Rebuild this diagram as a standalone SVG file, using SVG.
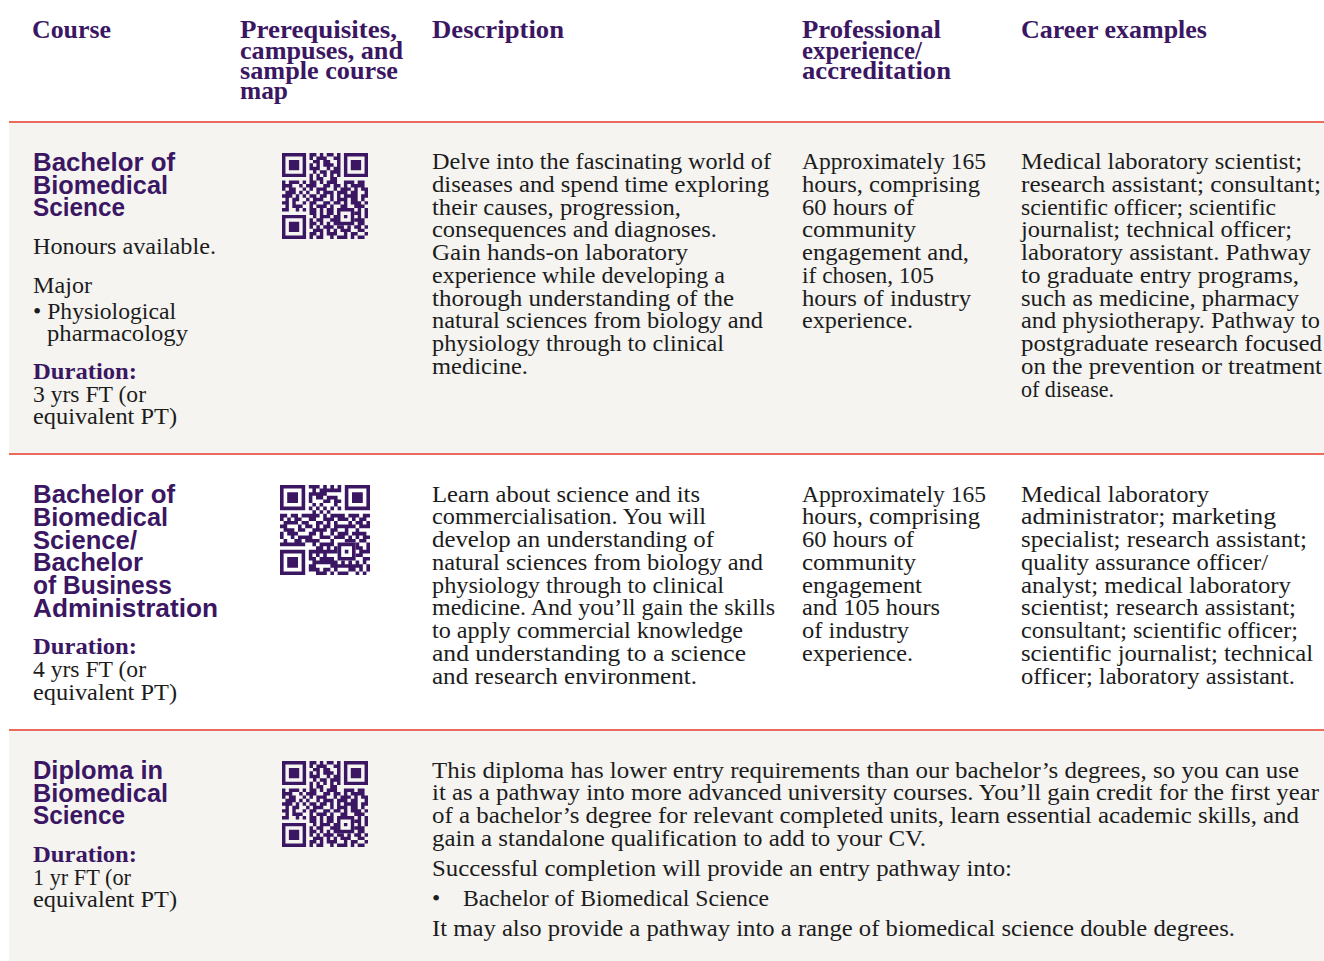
<svg xmlns="http://www.w3.org/2000/svg" width="1324" height="961" viewBox="0 0 1324 961">
<style>
.hd{font-family:"Liberation Serif","Times New Roman",serif;font-weight:bold;font-size:25.5px;fill:#3b1763}
.nm{font-family:"Liberation Sans",Arial,sans-serif;font-weight:bold;font-size:25.5px;fill:#3b1763}
.tx{font-family:"Liberation Serif","Times New Roman",serif;font-size:23.5px;fill:#1c1c1c}
.du{font-family:"Liberation Serif","Times New Roman",serif;font-weight:bold;font-size:23.5px;fill:#3b1763}
.rule{stroke:#ea6a5e;stroke-width:2}
.qr{fill:#3b1763}
</style>
<defs>
<g id="qr">
<path class="qr" fill-rule="evenodd" d="M0 0h7v7h-7z M1 1v5h5v-5z M2 2h3v3h-3z M18 0h7v7h-7z M19 1v5h5v-5z M20 2h3v3h-3z M0 18h7v7h-7z M1 19v5h5v-5z M2 20h3v3h-3z M16 16h5v5h-5z M17 17v3h3v-3z M18 18h1v1h-1z"/>
<path class="qr" d="M8 0h2v1h-2z M11 0h1v1h-1z M13 0h2v1h-2z M16 0h1v1h-1z
M8 1h1v1h-1z M10 1h3v1h-3z M15 1h2v1h-2z
M9 2h2v1h-2z M12 2h2v1h-2z M16 2h1v1h-1z
M8 3h1v1h-1z M10 3h1v1h-1z M12 3h3v1h-3z M16 3h1v1h-1z
M8 4h3v1h-3z M13 4h1v1h-1z M15 4h2v1h-2z
M9 5h1v1h-1z M11 5h2v1h-2z M14 5h3v1h-3z
M8 6h1v1h-1z M10 6h1v1h-1z M12 6h1v1h-1z M14 6h1v1h-1z M16 6h1v1h-1z
M8 7h1v1h-1z M10 7h2v1h-2z M14 7h2v1h-2z
M0 8h1v1h-1z M2 8h3v1h-3z M6 8h1v1h-1z M8 8h2v1h-2z M11 8h1v1h-1z M13 8h3v1h-3z M18 8h3v1h-3z M22 8h2v1h-2z
M0 9h3v1h-3z M5 9h1v1h-1z M7 9h3v1h-3z M12 9h2v1h-2z M15 9h2v1h-2z M18 9h1v1h-1z M20 9h4v1h-4z
M0 10h1v1h-1z M2 10h2v1h-2z M6 10h1v1h-1z M8 10h1v1h-1z M10 10h3v1h-3z M15 10h1v1h-1z M17 10h3v1h-3z M21 10h1v1h-1z M23 10h2v1h-2z
M1 11h3v1h-3z M5 11h1v1h-1z M7 11h1v1h-1z M10 11h1v1h-1z M12 11h3v1h-3z M16 11h3v1h-3z M20 11h2v1h-2z M24 11h1v1h-1z
M0 12h3v1h-3z M4 12h1v1h-1z M6 12h1v1h-1z M8 12h2v1h-2z M11 12h2v1h-2z M14 12h1v1h-1z M16 12h1v1h-1z M18 12h4v1h-4z M23 12h2v1h-2z
M1 13h1v1h-1z M3 13h2v1h-2z M7 13h1v1h-1z M9 13h3v1h-3z M14 13h1v1h-1z M16 13h3v1h-3z M20 13h2v1h-2z M23 13h1v1h-1z
M0 14h2v1h-2z M3 14h1v1h-1z M6 14h1v1h-1z M8 14h2v1h-2z M12 14h2v1h-2z M15 14h2v1h-2z M18 14h1v1h-1z M20 14h3v1h-3z M24 14h1v1h-1z
M1 15h1v1h-1z M3 15h3v1h-3z M8 15h1v1h-1z M10 15h3v1h-3z M14 15h1v1h-1z M17 15h2v1h-2z M21 15h3v1h-3z
M0 16h2v1h-2z M4 16h1v1h-1z M6 16h1v1h-1z M8 16h2v1h-2z M11 16h1v1h-1z M13 16h2v1h-2z M22 16h1v1h-1z M24 16h1v1h-1z
M8 17h2v1h-2z M11 17h1v1h-1z M13 17h2v1h-2z M21 17h2v1h-2z M24 17h1v1h-1z
M9 18h1v1h-1z M11 18h3v1h-3z M15 18h1v1h-1z M22 18h1v1h-1z M24 18h1v1h-1z
M8 19h1v1h-1z M10 19h2v1h-2z M14 19h2v1h-2z M21 19h3v1h-3z
M8 20h2v1h-2z M11 20h1v1h-1z M13 20h1v1h-1z M15 20h1v1h-1z M22 20h2v1h-2z
M8 21h1v1h-1z M10 21h1v1h-1z M12 21h3v1h-3z M16 21h2v1h-2z M19 21h1v1h-1z M21 21h2v1h-2z M24 21h1v1h-1z
M9 22h3v1h-3z M13 22h1v1h-1z M15 22h1v1h-1z M17 22h3v1h-3z M22 22h2v1h-2z
M8 23h2v1h-2z M11 23h1v1h-1z M13 23h3v1h-3z M18 23h1v1h-1z M20 23h2v1h-2z M24 23h1v1h-1z
M8 24h1v1h-1z M10 24h2v1h-2z M14 24h1v1h-1z M16 24h3v1h-3z M20 24h1v1h-1z M22 24h2v1h-2z"/>
</g>
</defs>
<rect x="0" y="0" width="1324" height="961" fill="#ffffff"/>
<g id="backgrounds">
<rect x="9" y="123" width="1315" height="330" fill="#f5f4f1"/>
<rect x="9" y="731" width="1315" height="230" fill="#f5f4f1"/>
</g>
<g id="rules">
<line class="rule" x1="9" y1="122" x2="1324" y2="122"/>
<line class="rule" x1="9" y1="454" x2="1324" y2="454"/>
<line class="rule" x1="9" y1="730" x2="1324" y2="730"/>
</g>
<g id="header">
<text class="hd" x="32" y="38" textLength="79" lengthAdjust="spacingAndGlyphs">Course</text>
<text class="hd" x="240" y="38" textLength="157" lengthAdjust="spacingAndGlyphs">Prerequisites,</text>
<text class="hd" x="240" y="58.5" textLength="163" lengthAdjust="spacingAndGlyphs">campuses, and</text>
<text class="hd" x="240" y="79" textLength="158" lengthAdjust="spacingAndGlyphs">sample course</text>
<text class="hd" x="240" y="99" textLength="48" lengthAdjust="spacingAndGlyphs">map</text>
<text class="hd" x="432" y="38" textLength="132" lengthAdjust="spacingAndGlyphs">Description</text>
<text class="hd" x="802" y="38" textLength="139" lengthAdjust="spacingAndGlyphs">Professional</text>
<text class="hd" x="802" y="58.5" textLength="120" lengthAdjust="spacingAndGlyphs">experience/</text>
<text class="hd" x="802" y="79" textLength="149" lengthAdjust="spacingAndGlyphs">accreditation</text>
<text class="hd" x="1021" y="38" textLength="186" lengthAdjust="spacingAndGlyphs">Career examples</text>
</g>
<g id="row1">
<text class="nm" x="33" y="171" textLength="142" lengthAdjust="spacingAndGlyphs">Bachelor of</text>
<text class="nm" x="33" y="194" textLength="135" lengthAdjust="spacingAndGlyphs">Biomedical</text>
<text class="nm" x="33" y="216" textLength="92" lengthAdjust="spacingAndGlyphs">Science</text>
<text class="tx" x="33" y="253.5" textLength="183" lengthAdjust="spacingAndGlyphs">Honours available.</text>
<text class="tx" x="33" y="292.5" textLength="59" lengthAdjust="spacingAndGlyphs">Major</text>
<text class="tx" x="33" y="318.5" textLength="143" lengthAdjust="spacingAndGlyphs">• Physiological</text>
<text class="tx" x="47" y="341" textLength="141" lengthAdjust="spacingAndGlyphs">pharmacology</text>
<text class="du" x="33" y="378.5" textLength="104" lengthAdjust="spacingAndGlyphs">Duration:</text>
<text class="tx" x="33" y="401.5" textLength="113" lengthAdjust="spacingAndGlyphs">3 yrs FT (or</text>
<text class="tx" x="33" y="424" textLength="144" lengthAdjust="spacingAndGlyphs">equivalent PT)</text>
<use href="#qr" transform="translate(282,153) scale(3.44)"/>
<text class="tx" x="432" y="169" textLength="339" lengthAdjust="spacingAndGlyphs">Delve into the fascinating world of</text>
<text class="tx" x="432" y="191.75" textLength="337" lengthAdjust="spacingAndGlyphs">diseases and spend time exploring</text>
<text class="tx" x="432" y="214.5" textLength="249" lengthAdjust="spacingAndGlyphs">their causes, progression,</text>
<text class="tx" x="432" y="237.25" textLength="285" lengthAdjust="spacingAndGlyphs">consequences and diagnoses.</text>
<text class="tx" x="432" y="260" textLength="256" lengthAdjust="spacingAndGlyphs">Gain hands-on laboratory</text>
<text class="tx" x="432" y="282.75" textLength="293" lengthAdjust="spacingAndGlyphs">experience while developing a</text>
<text class="tx" x="432" y="305.5" textLength="302" lengthAdjust="spacingAndGlyphs">thorough understanding of the</text>
<text class="tx" x="432" y="328.25" textLength="331" lengthAdjust="spacingAndGlyphs">natural sciences from biology and</text>
<text class="tx" x="432" y="351" textLength="292" lengthAdjust="spacingAndGlyphs">physiology through to clinical</text>
<text class="tx" x="432" y="373.75" textLength="96" lengthAdjust="spacingAndGlyphs">medicine.</text>
<text class="tx" x="802" y="169" textLength="184" lengthAdjust="spacingAndGlyphs">Approximately 165</text>
<text class="tx" x="802" y="191.75" textLength="178" lengthAdjust="spacingAndGlyphs">hours, comprising</text>
<text class="tx" x="802" y="214.5" textLength="112" lengthAdjust="spacingAndGlyphs">60 hours of</text>
<text class="tx" x="802" y="237.25" textLength="114" lengthAdjust="spacingAndGlyphs">community</text>
<text class="tx" x="802" y="260" textLength="167" lengthAdjust="spacingAndGlyphs">engagement and,</text>
<text class="tx" x="802" y="282.75" textLength="132" lengthAdjust="spacingAndGlyphs">if chosen, 105</text>
<text class="tx" x="802" y="305.5" textLength="169" lengthAdjust="spacingAndGlyphs">hours of industry</text>
<text class="tx" x="802" y="328.25" textLength="111" lengthAdjust="spacingAndGlyphs">experience.</text>
<text class="tx" x="1021" y="169" textLength="281" lengthAdjust="spacingAndGlyphs">Medical laboratory scientist;</text>
<text class="tx" x="1021" y="191.75" textLength="300" lengthAdjust="spacingAndGlyphs">research assistant; consultant;</text>
<text class="tx" x="1021" y="214.5" textLength="255" lengthAdjust="spacingAndGlyphs">scientific officer; scientific</text>
<text class="tx" x="1021" y="237.25" textLength="271" lengthAdjust="spacingAndGlyphs">journalist; technical officer;</text>
<text class="tx" x="1021" y="260" textLength="290" lengthAdjust="spacingAndGlyphs">laboratory assistant. Pathway</text>
<text class="tx" x="1021" y="282.75" textLength="278" lengthAdjust="spacingAndGlyphs">to graduate entry programs,</text>
<text class="tx" x="1021" y="305.5" textLength="278" lengthAdjust="spacingAndGlyphs">such as medicine, pharmacy</text>
<text class="tx" x="1021" y="328.25" textLength="299" lengthAdjust="spacingAndGlyphs">and physiotherapy. Pathway to</text>
<text class="tx" x="1021" y="351" textLength="301" lengthAdjust="spacingAndGlyphs">postgraduate research focused</text>
<text class="tx" x="1021" y="373.75" textLength="301" lengthAdjust="spacingAndGlyphs">on the prevention or treatment</text>
<text class="tx" x="1021" y="396.5" textLength="93" lengthAdjust="spacingAndGlyphs">of disease.</text>
</g>
<g id="row2">
<text class="nm" x="33" y="503" textLength="142" lengthAdjust="spacingAndGlyphs">Bachelor of</text>
<text class="nm" x="33" y="526" textLength="135" lengthAdjust="spacingAndGlyphs">Biomedical</text>
<text class="nm" x="33" y="548.5" textLength="104" lengthAdjust="spacingAndGlyphs">Science/</text>
<text class="nm" x="33" y="571" textLength="110" lengthAdjust="spacingAndGlyphs">Bachelor</text>
<text class="nm" x="33" y="594" textLength="139" lengthAdjust="spacingAndGlyphs">of Business</text>
<text class="nm" x="33" y="617" textLength="185" lengthAdjust="spacingAndGlyphs">Administration</text>
<text class="du" x="33" y="653.5" textLength="104" lengthAdjust="spacingAndGlyphs">Duration:</text>
<text class="tx" x="33" y="677" textLength="113" lengthAdjust="spacingAndGlyphs">4 yrs FT (or</text>
<text class="tx" x="33" y="700" textLength="144" lengthAdjust="spacingAndGlyphs">equivalent PT)</text>
<use href="#qr" transform="matrix(0,3.6,3.6,0,280,485)"/>
<text class="tx" x="432" y="501.5" textLength="268" lengthAdjust="spacingAndGlyphs">Learn about science and its</text>
<text class="tx" x="432" y="524.25" textLength="274" lengthAdjust="spacingAndGlyphs">commercialisation. You will</text>
<text class="tx" x="432" y="547" textLength="282" lengthAdjust="spacingAndGlyphs">develop an understanding of</text>
<text class="tx" x="432" y="569.75" textLength="331" lengthAdjust="spacingAndGlyphs">natural sciences from biology and</text>
<text class="tx" x="432" y="592.5" textLength="292" lengthAdjust="spacingAndGlyphs">physiology through to clinical</text>
<text class="tx" x="432" y="615.25" textLength="343" lengthAdjust="spacingAndGlyphs">medicine. And you’ll gain the skills</text>
<text class="tx" x="432" y="638" textLength="311" lengthAdjust="spacingAndGlyphs">to apply commercial knowledge</text>
<text class="tx" x="432" y="660.75" textLength="314" lengthAdjust="spacingAndGlyphs">and understanding to a science</text>
<text class="tx" x="432" y="683.5" textLength="265" lengthAdjust="spacingAndGlyphs">and research environment.</text>
<text class="tx" x="802" y="501.5" textLength="184" lengthAdjust="spacingAndGlyphs">Approximately 165</text>
<text class="tx" x="802" y="524.25" textLength="178" lengthAdjust="spacingAndGlyphs">hours, comprising</text>
<text class="tx" x="802" y="547" textLength="112" lengthAdjust="spacingAndGlyphs">60 hours of</text>
<text class="tx" x="802" y="569.75" textLength="114" lengthAdjust="spacingAndGlyphs">community</text>
<text class="tx" x="802" y="592.5" textLength="120" lengthAdjust="spacingAndGlyphs">engagement</text>
<text class="tx" x="802" y="615.25" textLength="138" lengthAdjust="spacingAndGlyphs">and 105 hours</text>
<text class="tx" x="802" y="638" textLength="107" lengthAdjust="spacingAndGlyphs">of industry</text>
<text class="tx" x="802" y="660.75" textLength="111" lengthAdjust="spacingAndGlyphs">experience.</text>
<text class="tx" x="1021" y="501.5" textLength="188" lengthAdjust="spacingAndGlyphs">Medical laboratory</text>
<text class="tx" x="1021" y="524.25" textLength="255" lengthAdjust="spacingAndGlyphs">administrator; marketing</text>
<text class="tx" x="1021" y="547" textLength="286" lengthAdjust="spacingAndGlyphs">specialist; research assistant;</text>
<text class="tx" x="1021" y="569.75" textLength="247" lengthAdjust="spacingAndGlyphs">quality assurance officer/</text>
<text class="tx" x="1021" y="592.5" textLength="270" lengthAdjust="spacingAndGlyphs">analyst; medical laboratory</text>
<text class="tx" x="1021" y="615.25" textLength="275" lengthAdjust="spacingAndGlyphs">scientist; research assistant;</text>
<text class="tx" x="1021" y="638" textLength="277" lengthAdjust="spacingAndGlyphs">consultant; scientific officer;</text>
<text class="tx" x="1021" y="660.75" textLength="292" lengthAdjust="spacingAndGlyphs">scientific journalist; technical</text>
<text class="tx" x="1021" y="683.5" textLength="274" lengthAdjust="spacingAndGlyphs">officer; laboratory assistant.</text>
</g>
<g id="row3">
<text class="nm" x="33" y="779" textLength="130" lengthAdjust="spacingAndGlyphs">Diploma in</text>
<text class="nm" x="33" y="802" textLength="135" lengthAdjust="spacingAndGlyphs">Biomedical</text>
<text class="nm" x="33" y="824" textLength="92" lengthAdjust="spacingAndGlyphs">Science</text>
<text class="du" x="33" y="861.5" textLength="104" lengthAdjust="spacingAndGlyphs">Duration:</text>
<text class="tx" x="33" y="884.5" textLength="98" lengthAdjust="spacingAndGlyphs">1 yr FT (or</text>
<text class="tx" x="33" y="907" textLength="144" lengthAdjust="spacingAndGlyphs">equivalent PT)</text>
<use href="#qr" transform="translate(282,761) scale(3.44)"/>
<text class="tx" x="432" y="777.5" textLength="867" lengthAdjust="spacingAndGlyphs">This diploma has lower entry requirements than our bachelor’s degrees, so you can use</text>
<text class="tx" x="432" y="800.25" textLength="887" lengthAdjust="spacingAndGlyphs">it as a pathway into more advanced university courses. You’ll gain credit for the first year</text>
<text class="tx" x="432" y="823" textLength="867" lengthAdjust="spacingAndGlyphs">of a bachelor’s degree for relevant completed units, learn essential academic skills, and</text>
<text class="tx" x="432" y="845.75" textLength="494" lengthAdjust="spacingAndGlyphs">gain a standalone qualification to add to your CV.</text>
<text class="tx" x="432" y="875.5" textLength="580" lengthAdjust="spacingAndGlyphs">Successful completion will provide an entry pathway into:</text>
<text class="tx" x="432" y="905.5">•</text>
<text class="tx" x="463" y="905.5" textLength="306" lengthAdjust="spacingAndGlyphs">Bachelor of Biomedical Science</text>
<text class="tx" x="432" y="935.5" textLength="803" lengthAdjust="spacingAndGlyphs">It may also provide a pathway into a range of biomedical science double degrees.</text>
</g>
</svg>
